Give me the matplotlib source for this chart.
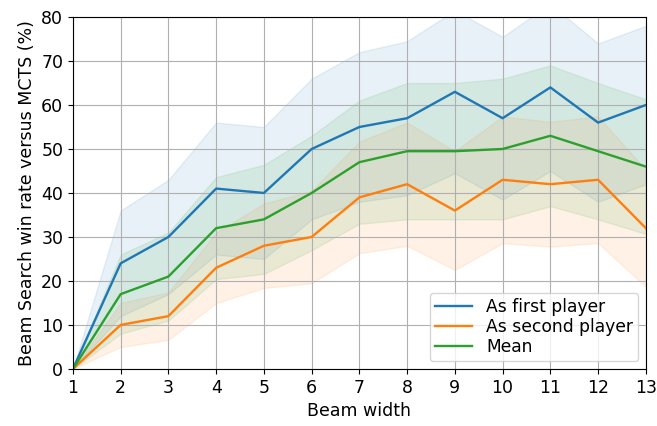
import matplotlib.pyplot as plt
import numpy as np

beam_width = np.arange(1, 14)

first_mean = [0, 24, 30, 41, 40, 50, 55, 57, 63, 57, 64, 56, 60]
first_err = [0, 12, 13, 15, 15, 16, 17, 17.5, 18.5, 18.5, 19, 18, 18]

second_mean = [0, 10, 12, 23, 28, 30, 39, 42, 36, 43, 42, 43, 32]
second_err = [0, 5, 5.4, 8, 9.6, 10.5, 12.7, 14, 13.5, 14.4, 14.2, 14.4, 13.3]

mean_mean = [0, 17, 21, 32, 34, 40, 47, 49.5, 49.5, 50, 53, 49.5, 46]
mean_err = [0, 9, 10, 11.6, 12.4, 13, 14, 15.5, 15.5, 16, 16, 15.5, 15.3]

plt.rcParams['font.size'] = 12.5

fig = plt.figure(figsize=(6.57, 4.26), dpi=100)
ax = fig.add_axes([0.111, 0.134, 0.872, 0.826])

series = [
    (first_mean, first_err, 'tab:blue', 'As first player'),
    (second_mean, second_err, 'tab:orange', 'As second player'),
    (mean_mean, mean_err, 'tab:green', 'Mean'),
]
for m, e, c, lab in series:
    m = np.array(m)
    e = np.array(e)
    ax.plot(beam_width, m, color=c, label=lab, linewidth=1.7)
    ax.fill_between(beam_width, m - e, m + e, color=c, alpha=0.1)

ax.set_xlim(1, 13)
ax.set_ylim(0, 80)
ax.set_xticks(beam_width)
ax.grid(True)
ax.set_xlabel("Beam width", labelpad=4)
ax.set_ylabel("Beam Search win rate versus MCTS (%)", labelpad=4)
ax.legend(loc='lower right', fontsize=12.3, borderpad=0.3, labelspacing=0.12,
          handlelength=2.2, handletextpad=0.8, borderaxespad=0.45)

fig.savefig("out.png")
